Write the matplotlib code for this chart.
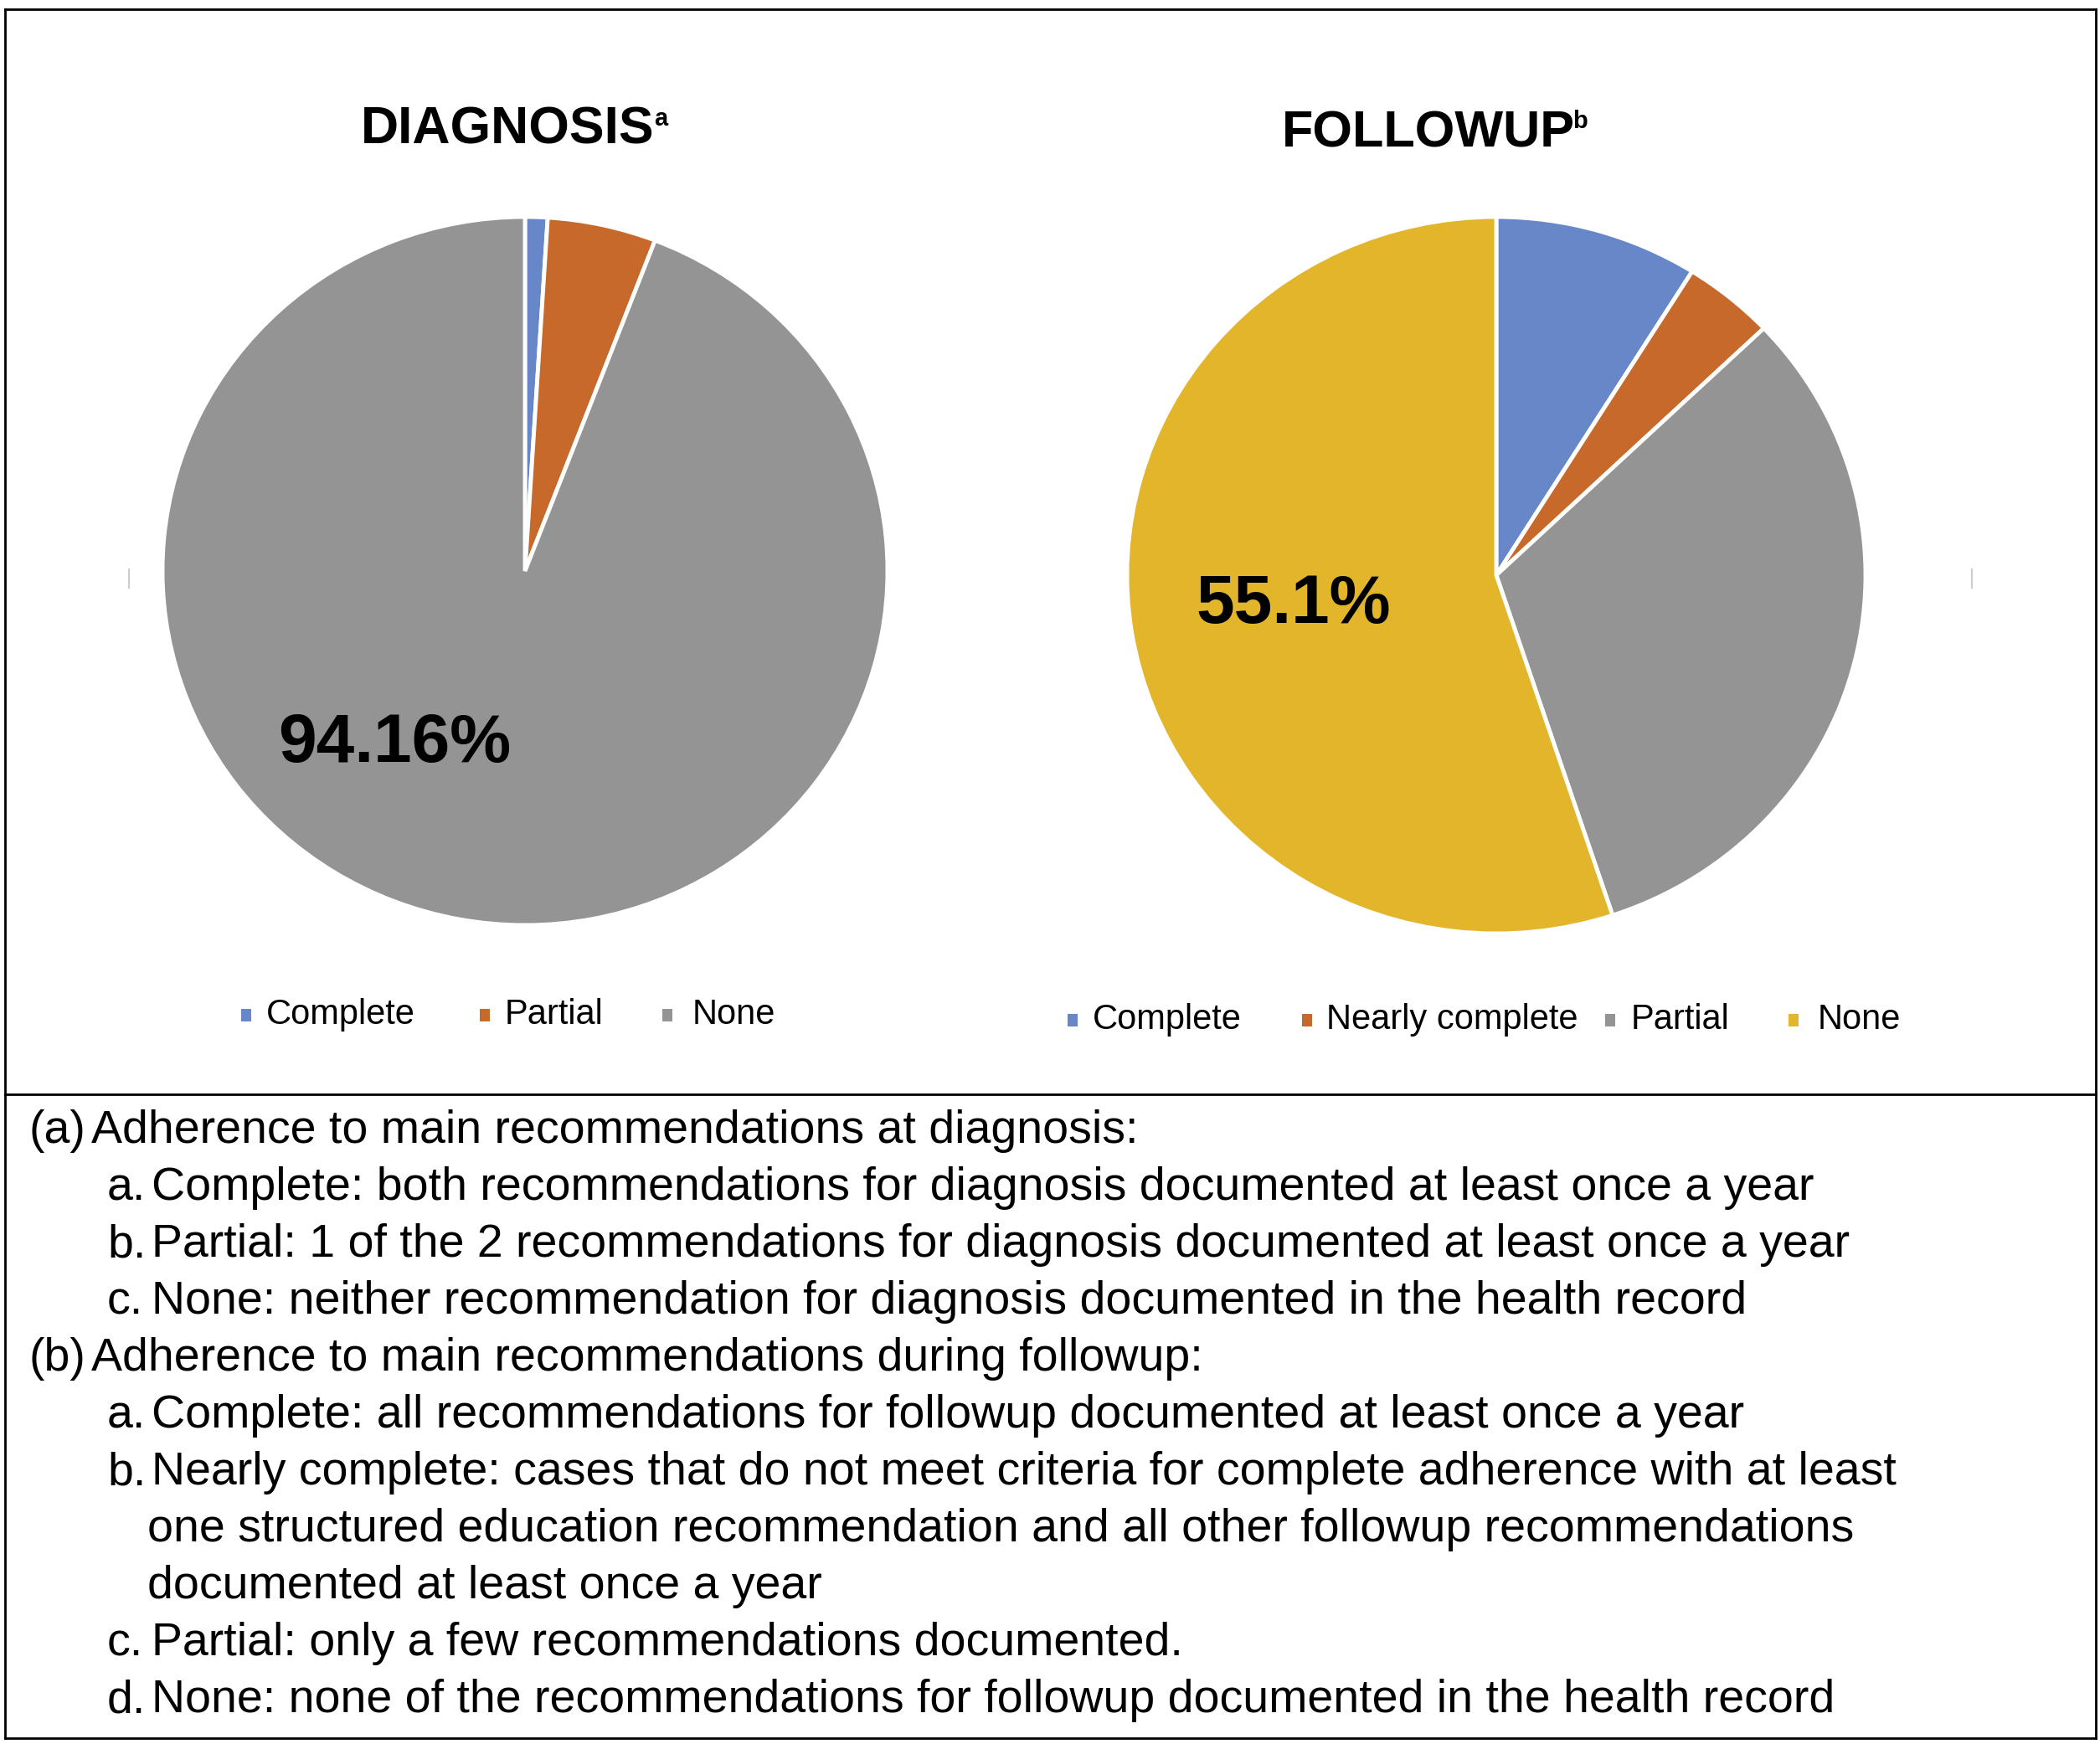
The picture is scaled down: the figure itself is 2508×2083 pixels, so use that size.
import matplotlib
matplotlib.use('Agg')
import matplotlib.pyplot as plt
from matplotlib import font_manager
from matplotlib.patches import Rectangle
from matplotlib.lines import Line2D

# data
diag_labels = ['Complete', 'Partial', 'None']
diag_values = [1.0, 4.84, 94.16]
diag_colors = ['#6787C9', '#C8692C', '#949494']

follow_labels = ['Complete', 'Nearly complete', 'Partial', 'None']
follow_values = [8.9, 4.0, 32.0, 55.1]
follow_colors = ['#6787C9', '#C8692C', '#949494', '#E3B52A']

notes = [
    ('(a)', 'Adherence to main recommendations at diagnosis:', 0),
    ('a.', 'Complete: both recommendations for diagnosis documented at least once a year', 1),
    ('b.', 'Partial: 1 of the 2 recommendations for diagnosis documented at least once a year', 1),
    ('c.', 'None: neither recommendation for diagnosis documented in the health record', 1),
    ('(b)', 'Adherence to main recommendations during followup:', 0),
    ('a.', 'Complete: all recommendations for followup documented at least once a year', 1),
    ('b.', 'Nearly complete: cases that do not meet criteria for complete adherence with at least', 1),
    ('', 'one structured education recommendation and all other followup recommendations', 2),
    ('', 'documented at least once a year', 2),
    ('c.', 'Partial: only a few recommendations documented.', 1),
    ('d.', 'None: none of the recommendations for followup documented in the health record', 1),
]

W, H = 2508, 2083
fig = plt.figure(figsize=(W / 100, H / 100), dpi=100)
fig.patch.set_facecolor('white')

def fx(px):
    return px / W

def fy(py):
    return 1 - py / H

names = {f.name for f in font_manager.fontManager.ttflist}
SANS = 'Liberation Sans'
NARROW = 'Liberation Sans Narrow' if 'Liberation Sans Narrow' in names else SANS
LEG_SIZE = 36 if NARROW != SANS else 30

# frame lines
for (x0, y0, x1, y1) in [(6, 11, 2503, 11), (6, 2076, 2503, 2076), (6, 1307, 2503, 1307),
                         (6, 11, 6, 2076), (2503, 11, 2503, 2076)]:
    fig.add_artist(Line2D([fx(x0), fx(x1)], [fy(y0), fy(y1)], color='black', lw=2))
# faint tick marks beside the pies
for x in (154, 2355):
    fig.add_artist(Line2D([fx(x), fx(x)], [fy(680), fy(702)], color='#cccccc', lw=1.5))


def draw_pie(cx, cy, rx, ry, values, colors):
    ax = fig.add_axes([fx(cx - rx), fy(cy + ry), 2 * rx / W, 2 * ry / H])
    wedges, _ = ax.pie(values, colors=colors, startangle=90, counterclock=False,
                       wedgeprops=dict(edgecolor='white', linewidth=3.5))
    for w in wedges:
        w.set_clip_on(False)
    ax.set_aspect('auto')
    ax.set_xlim(-1, 1)
    ax.set_ylim(-1, 1)
    ax.axis('off')
    return ax


ax1 = draw_pie(627, 682, 433, 423, diag_values, diag_colors)
ax1.text(-0.36, -0.49, f'{diag_values[-1]:.2f}%', ha='center', va='center',
         fontsize=59, fontweight='bold', family=SANS)

ax2 = draw_pie(1787, 687, 441, 428, follow_values, follow_colors)
ax2.text(-0.55, -0.084, f'{follow_values[-1]:.1f}%', ha='center', va='center',
         fontsize=59, fontweight='bold', family=SANS)

# titles
fig.text(fx(606), fy(171), 'DIAGNOSIS', ha='center', va='baseline',
         fontsize=45, fontweight='bold', family=SANS)
fig.text(fx(781), fy(150), 'a', ha='left', va='baseline', fontsize=21,
         fontweight='bold', family=SANS)
fig.text(fx(1706), fy(176), 'FOLLOWUP', ha='center', va='baseline',
         fontsize=44, fontweight='bold', family=SANS)
fig.text(fx(1878), fy(153), 'b', ha='left', va='baseline', fontsize=21,
         fontweight='bold', family=SANS)


# legends
def draw_legend(labels, colors, marker_x, text_x, y):
    for lab, col, mx, tx in zip(labels, colors, marker_x, text_x):
        fig.add_artist(Rectangle((fx(mx - 6), fy(y + 8)), 12 / W, 15 / H,
                                 facecolor=col, edgecolor='none'))
        fig.text(fx(tx), fy(y), lab, ha='left', va='center',
                 fontsize=LEG_SIZE, family=NARROW)


draw_legend(diag_labels, diag_colors, [294, 579, 797], [318, 603, 827], 1212)
draw_legend(follow_labels, follow_colors, [1281, 1561, 1923, 2142],
            [1305, 1584, 1948, 2171], 1218)

# footnotes
label_x = {0: 35, 1: 128, 2: None}
text_x = {0: 109, 1: 181, 2: 176}
y0, step = 1351, 68
for i, (lab, txt, lvl) in enumerate(notes):
    y = y0 + i * step
    if lab:
        fig.text(fx(label_x[lvl]), fy(y), lab, ha='left', va='center',
                 fontsize=40, family=SANS)
    fig.text(fx(text_x[lvl]), fy(y), txt, ha='left', va='center',
             fontsize=40, family=SANS)

fig.savefig('out.png', dpi=100, facecolor='white')
